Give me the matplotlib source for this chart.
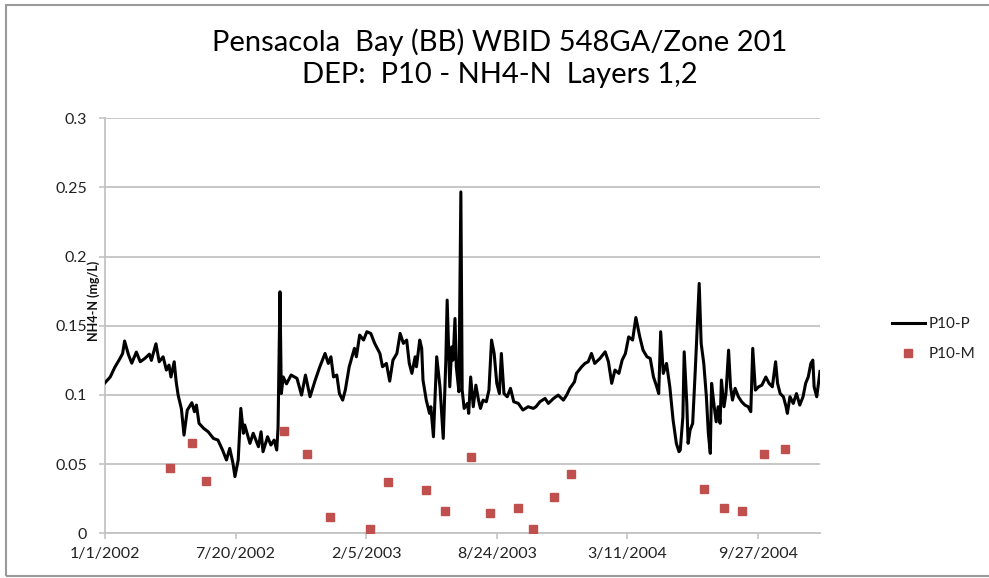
import datetime
import matplotlib
matplotlib.use("Agg")
import matplotlib.pyplot as plt
from matplotlib.patches import Rectangle
import numpy as np

# ---- data ----
start_date = datetime.date(2002, 1, 1)

p10p_days = [0, 8, 15, 23, 27, 30, 36, 41, 48, 54, 61, 68, 71, 78, 83, 89, 94, 98, 101, 106, 109, 112, 117, 121, 126,
             133, 137, 140, 144, 151, 158, 166, 173, 180, 186, 191, 196, 199, 204, 208, 212,
             214, 222, 227, 235, 239, 242, 249, 254, 259, 263, 265, 268, 270, 273, 278, 285, 294, 301, 307, 314, 322,
             329, 337, 342, 346, 350, 355, 359, 364, 368, 374, 382, 385, 390, 396, 401, 407, 413, 421, 425, 431, 436,
             441, 447, 452, 457, 462, 466, 470, 475, 477, 482, 485, 487, 492, 497, 499, 503, 508, 513, 518, 522, 524,
             528, 531, 533, 536, 538, 542, 545, 547, 550, 555, 557, 560, 564, 568, 572, 575, 579, 584, 588, 592, 596,
             600, 604, 607, 611, 616, 621, 626, 633, 640, 648, 656,
             660, 666, 674, 679, 687, 694, 702, 707, 712, 719, 722, 730, 735, 740, 745, 750, 758, 766, 771, 776, 781,
             787, 792, 797, 802, 808, 813, 819, 824, 830, 835, 840, 845, 848, 851, 855, 860, 865, 870, 875, 879,
             881, 885, 887, 891, 893, 896, 900, 904, 907, 910, 913, 917, 921, 924, 927, 929, 933, 936, 939, 942, 944,
             948, 951, 955, 958, 961, 965, 970, 975, 980, 985, 989, 992, 996, 1001, 1006, 1012, 1017, 1022, 1027,
             1030, 1034, 1039, 1043, 1045, 1049, 1054, 1059, 1064, 1069, 1073, 1077, 1081, 1084, 1086, 1090, 1095]
p10p_vals = [0.1088, 0.113, 0.120, 0.1264, 0.130, 0.139, 0.129, 0.123, 0.131, 0.124, 0.1264, 0.1295, 0.125, 0.137,
             0.124, 0.1276, 0.118, 0.1216, 0.113, 0.124, 0.1095, 0.0999, 0.090, 0.071, 0.089,
             0.0944, 0.0879, 0.0927, 0.0795, 0.0759, 0.0734, 0.0686, 0.0674, 0.0602, 0.053, 0.0614, 0.0506, 0.041,
             0.053, 0.0903, 0.0723,
             0.0783, 0.065, 0.0723, 0.0626, 0.0734, 0.059, 0.0698, 0.0638, 0.0674, 0.0602, 0.0759, 0.1746, 0.101,
             0.113, 0.108, 0.1144, 0.112, 0.0999, 0.1144, 0.0987, 0.1108,
             0.1204, 0.130, 0.1228, 0.1276, 0.113, 0.1144, 0.101, 0.0963, 0.1035, 0.1204, 0.1337, 0.1276, 0.1433,
             0.1397, 0.1457, 0.1445, 0.1373, 0.130, 0.1204, 0.1228, 0.110,
             0.1252, 0.130, 0.1445, 0.1373, 0.1397, 0.1228, 0.1156, 0.1276, 0.1204, 0.1397, 0.1337, 0.1108, 0.0963,
             0.0867, 0.0915, 0.0698, 0.1276, 0.1059, 0.0686, 0.1252, 0.1686,
             0.1059, 0.1348, 0.1252, 0.1553, 0.1204, 0.1023, 0.2468, 0.1035, 0.0903, 0.0939, 0.0867, 0.113, 0.0915,
             0.1071, 0.0963, 0.0903, 0.0963, 0.0951, 0.1035, 0.1397, 0.130,
             0.1084, 0.101, 0.130, 0.101, 0.0987, 0.1048, 0.0951, 0.0939, 0.0891, 0.0915, 0.0903,
             0.0915, 0.0951, 0.0975, 0.0939, 0.0975, 0.0999, 0.0963, 0.0999, 0.1048, 0.1095, 0.1156, 0.1204, 0.1228,
             0.124, 0.130, 0.1228, 0.1264, 0.1312, 0.124, 0.1084, 0.118,
             0.1156, 0.1252, 0.130, 0.142, 0.1397, 0.156, 0.142, 0.1324, 0.1276, 0.1264, 0.113, 0.1059, 0.101, 0.1457,
             0.1156, 0.1228, 0.1059, 0.0819, 0.065, 0.059,
             0.0602, 0.0843, 0.1312, 0.0939, 0.065, 0.0746, 0.0795, 0.118, 0.1493, 0.1806, 0.1373, 0.1228, 0.0987,
             0.0723, 0.0578, 0.1084, 0.0915, 0.0806, 0.0915, 0.0795, 0.1108,
             0.0915, 0.101, 0.1324, 0.1059, 0.0963, 0.1048, 0.0987, 0.0951, 0.0927, 0.0915, 0.0879, 0.1337, 0.1035,
             0.1059, 0.1071, 0.113, 0.1084, 0.1059, 0.124,
             0.1084, 0.101, 0.0987, 0.0915, 0.0867, 0.0987, 0.0939, 0.101, 0.0927, 0.0987, 0.1084, 0.113, 0.1228,
             0.1252, 0.1059, 0.0987, 0.117]

p10m_days = [100, 134, 155, 274, 309, 344, 406, 433, 492, 520, 560, 589, 632, 656, 688, 713, 917, 948, 975, 1010, 1041]
p10m_vals = [0.047, 0.065, 0.038, 0.074, 0.057, 0.012, 0.003, 0.037, 0.031, 0.016, 0.055, 0.015, 0.018, 0.003,
             0.026, 0.043, 0.032, 0.018, 0.016, 0.057, 0.061]

x_tick_days = [0, 200, 400, 600, 800, 1000]
y_ticks = [0, 0.05, 0.1, 0.15, 0.2, 0.25, 0.3]
y_tick_labels = ["0", "0.05", "0.1", "0.15", "0.2", "0.25", "0.3"]

title_text = "Pensacola  Bay (BB) WBID 548GA/Zone 201\nDEP:  P10 - NH4-N  Layers 1,2"

# ---- figure ----
W, H = 989, 578
plt.rcParams['font.family'] = ['Lato', 'DejaVu Sans']
fig = plt.figure(figsize=(W / 100, H / 100), dpi=100)
fig.patch.set_facecolor("white")

# outer chart border
fig.patches.append(Rectangle((6 / W, 1 - 576 / H), (995 - 6) / W, (576 - 5) / H,
                             transform=fig.transFigure, fill=False, edgecolor="#9a9a9a", lw=1.5))

ax = fig.add_axes([105 / W, 1 - 533.3 / H, (820 - 105) / W, (533.3 - 118.3) / H])

grid_c = "#c3c3c3"
ax.plot(p10p_days, p10p_vals, color="black", lw=2.2, label="P10-P", zorder=3)
ax.plot(p10m_days, p10m_vals, linestyle="none", marker="s", markersize=6.3, color="#c0504d",
        markeredgecolor="#c0504d", label="P10-M", zorder=4)

ax.set_xlim(0, 1095)
ax.set_ylim(0, 0.3)
ax.set_yticks(y_ticks)
ax.set_yticklabels(y_tick_labels)
ax.set_xticks(x_tick_days)
ax.set_xticklabels([
    "{}/{}/{}".format(d.month, d.day, d.year)
    for d in (start_date + datetime.timedelta(days=k) for k in x_tick_days)
])
ax.yaxis.grid(True, color=grid_c, lw=1.3)
ax.set_axisbelow(True)
for s in ["top", "right"]:
    ax.spines[s].set_visible(False)
for s in ["left", "bottom"]:
    ax.spines[s].set_color(grid_c)
    ax.spines[s].set_linewidth(1.3)
ax.tick_params(axis="y", length=4, width=1.2, color=grid_c, pad=9, labelsize=11.5, labelcolor="#222222")
ax.tick_params(axis="x", length=4, width=1.2, color=grid_c, pad=6, labelsize=11.5, labelcolor="#222222")

fig.text(94 / W, 1 - 301 / H, "NH4-N (mg/L)", rotation=90, ha="center", va="center",
         fontsize=9, fontweight="bold", color="#111111")

fig.text(500 / W, 1 - 58 / H, title_text, ha="center", va="center", fontsize=21,
         linespacing=1.28, color="black")

fig.legend(loc="center left", bbox_to_anchor=(884 / W, 1 - 339 / H), frameon=False,
           fontsize=11, handlelength=2.2, labelspacing=1.05, handletextpad=0.2, borderpad=0,
           labelcolor="#222222")

fig.savefig("out.png", dpi=100)
